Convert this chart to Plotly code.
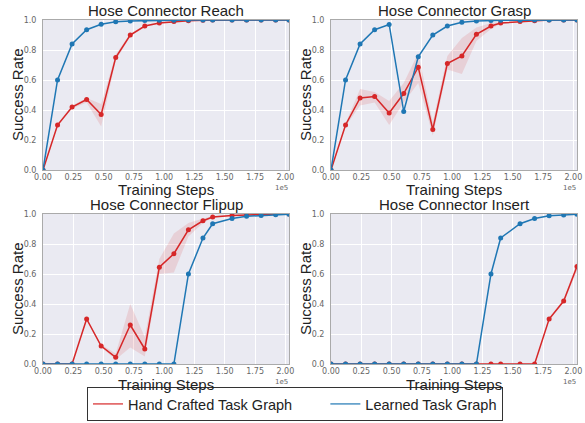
import plotly.graph_objects as go

# ---- data (x in units of 1e5 training steps) ----
steps = [0.0, 0.12, 0.24, 0.36, 0.48, 0.60, 0.72, 0.84, 0.96, 1.08, 1.20, 1.32, 1.40, 1.56, 1.68, 1.80, 1.92, 2.03]

titles = ["Hose Connector Reach", "Hose Connector Grasp", "Hose Connector Flipup", "Hose Connector Insert"]
series_names = ["Hand Crafted Task Graph", "Learned Task Graph"]

reach_learned = [0.0, 0.60, 0.84, 0.935, 0.972, 0.988, 0.994, 0.997, 0.998, 0.999, 1.0, 1.0, 1.0, 1.0, 1.0, 1.0, 1.0, 1.0]
reach_hand = [0.0, 0.30, 0.42, 0.47, 0.37, 0.75, 0.90, 0.96, 0.98, 0.99, 0.995, 0.998, 1.0, 1.0, 1.0, 1.0, 1.0, 1.0]
reach_hand_lo = [0.0, 0.29, 0.41, 0.45, 0.29, 0.73, 0.89, 0.955, 0.975, 0.988, 0.993, 0.997, 1.0, 1.0, 1.0, 1.0, 1.0, 1.0]
reach_hand_hi = [0.0, 0.31, 0.43, 0.48, 0.44, 0.77, 0.91, 0.965, 0.985, 0.992, 0.997, 0.999, 1.0, 1.0, 1.0, 1.0, 1.0, 1.0]

grasp_learned = [0.0, 0.60, 0.84, 0.935, 0.97, 0.39, 0.755, 0.90, 0.96, 0.985, 0.993, 0.997, 0.998, 0.999, 1.0, 1.0, 1.0, 1.0]
grasp_hand = [0.0, 0.30, 0.48, 0.49, 0.38, 0.51, 0.685, 0.27, 0.71, 0.76, 0.905, 0.96, 0.98, 0.99, 0.995, 1.0, 1.0, 1.0]
grasp_hand_lo = [0.0, 0.29, 0.43, 0.45, 0.30, 0.45, 0.58, 0.23, 0.67, 0.64, 0.86, 0.94, 0.975, 0.988, 0.994, 1.0, 1.0, 1.0]
grasp_hand_hi = [0.0, 0.31, 0.54, 0.52, 0.46, 0.58, 0.78, 0.32, 0.76, 0.88, 0.95, 0.98, 0.985, 0.993, 0.997, 1.0, 1.0, 1.0]

flip_learned = [0.0, 0.0, 0.0, 0.0, 0.0, 0.0, 0.0, 0.0, 0.0, 0.0, 0.60, 0.84, 0.935, 0.97, 0.985, 0.99, 0.995, 0.998]
flip_hand = [0.0, 0.0, 0.0, 0.30, 0.12, 0.045, 0.26, 0.10, 0.645, 0.735, 0.895, 0.955, 0.98, 0.99, 0.995, 1.0, 1.0, 1.0]
flip_hand_lo = [0.0, 0.0, 0.0, 0.29, 0.11, 0.03, 0.11, 0.05, 0.60, 0.61, 0.85, 0.94, 0.975, 0.988, 0.994, 1.0, 1.0, 1.0]
flip_hand_hi = [0.0, 0.0, 0.0, 0.31, 0.13, 0.07, 0.40, 0.18, 0.70, 0.87, 0.94, 0.97, 0.985, 0.993, 0.997, 1.0, 1.0, 1.0]

insert_learned = [0.0, 0.0, 0.0, 0.0, 0.0, 0.0, 0.0, 0.0, 0.0, 0.0, 0.0, 0.60, 0.84, 0.935, 0.97, 0.988, 0.993, 0.998]
insert_hand = [0.0, 0.0, 0.0, 0.0, 0.0, 0.0, 0.0, 0.0, 0.0, 0.0, 0.0, 0.0, 0.0, 0.0, 0.0, 0.30, 0.42, 0.65]
insert_hand_lo = [0.0, 0.0, 0.0, 0.0, 0.0, 0.0, 0.0, 0.0, 0.0, 0.0, 0.0, 0.0, 0.0, 0.0, 0.0, 0.29, 0.41, 0.62]
insert_hand_hi = [0.0, 0.0, 0.0, 0.0, 0.0, 0.0, 0.0, 0.0, 0.0, 0.0, 0.0, 0.0, 0.0, 0.0, 0.0, 0.31, 0.43, 0.68]

x_ticks = [0.0, 0.25, 0.5, 0.75, 1.0, 1.25, 1.5, 1.75, 2.0]
x_tick_labels = ["0.00", "0.25", "0.50", "0.75", "1.00", "1.25", "1.50", "1.75", "2.00"]
y_ticks = [0.0, 0.2, 0.4, 0.6, 0.8, 1.0]
y_tick_labels = ["0.0", "0.2", "0.4", "0.6", "0.8", "1.0"]

RED = "#d62728"
BLUE = "#1f77b4"
BAND = "rgba(214,39,40,0.13)"

panels = [
    (reach_hand, reach_hand_lo, reach_hand_hi, reach_learned),
    (grasp_hand, grasp_hand_lo, grasp_hand_hi, grasp_learned),
    (flip_hand, flip_hand_lo, flip_hand_hi, flip_learned),
    (insert_hand, insert_hand_lo, insert_hand_hi, insert_learned),
]

W, H = 585, 423
# plot-area pixel boxes (left, right, top, bottom)
boxes = [(43, 289, 20, 170), (331, 577, 20, 170), (43, 289, 214, 364), (331, 577, 214, 364)]
xtitle_offset = [19, 19, 20, 20]

fig = go.Figure()
layout = dict(
    width=W, height=H,
    margin=dict(l=0, r=0, t=0, b=0, autoexpand=False),
    paper_bgcolor="white",
    plot_bgcolor="#EAEAF2",
    showlegend=True,
    font=dict(family="Liberation Sans, Arial, sans-serif", color="#222"),
)
annotations = []

for i, (hand, lo, hi, learned) in enumerate(panels):
    n = i + 1
    xa = "x" if n == 1 else f"x{n}"
    ya = "y" if n == 1 else f"y{n}"
    l, r, t, b = boxes[i]
    dom_x = [l / W, r / W]
    dom_y = [1 - b / H, 1 - t / H]
    layout[f"xaxis{'' if n == 1 else n}"] = dict(
        domain=dom_x, anchor=ya, range=[0, 2.03], automargin=False,
        tickvals=x_ticks, ticktext=x_tick_labels,
        tickfont=dict(family="DejaVu Sans", size=8, color="#666"),
        showgrid=True, gridcolor="white", gridwidth=1, zeroline=False,
        showline=True, linecolor="#aaaaaa", linewidth=1, mirror=True,
        ticks="", ticklen=0, ticklabelstandoff=-1,
    )
    layout[f"yaxis{'' if n == 1 else n}"] = dict(
        domain=dom_y, anchor=xa, range=[0, 1.0], automargin=False,
        tickvals=y_ticks, ticktext=y_tick_labels,
        tickfont=dict(family="DejaVu Sans", size=8, color="#666"),
        showgrid=True, gridcolor="white", gridwidth=1, zeroline=False,
        showline=True, linecolor="#aaaaaa", linewidth=1, mirror=True,
        ticks="", ticklen=0, ticklabelstandoff=4,
    )
    # band
    fig.add_trace(go.Scatter(x=steps, y=lo, mode="lines", line=dict(width=0, color=BAND),
                             xaxis=xa, yaxis=ya, showlegend=False, hoverinfo="skip"))
    fig.add_trace(go.Scatter(x=steps, y=hi, mode="lines", line=dict(width=0, color=BAND),
                             fill="tonexty", fillcolor=BAND,
                             xaxis=xa, yaxis=ya, showlegend=False, hoverinfo="skip"))
    fig.add_trace(go.Scatter(x=steps, y=hand, mode="lines+markers",
                             line=dict(color=RED, width=1.5), marker=dict(color=RED, size=5),
                             name=series_names[0], showlegend=False, xaxis=xa, yaxis=ya))
    fig.add_trace(go.Scatter(x=steps, y=learned, mode="lines+markers",
                             line=dict(color=BLUE, width=1.5), marker=dict(color=BLUE, size=5),
                             name=series_names[1], showlegend=False, xaxis=xa, yaxis=ya))
    # subplot title
    annotations.append(dict(text=titles[i], x=(dom_x[0] + dom_x[1]) / 2, y=1 - (t + 1) / H,
                            xref="paper", yref="paper", xanchor="center", yanchor="bottom",
                            showarrow=False, font=dict(size=15, color="#222")))
    # axis titles
    annotations.append(dict(text="Training Steps", x=(dom_x[0] + dom_x[1]) / 2,
                            y=1 - (b + xtitle_offset[i]) / H,
                            xref="paper", yref="paper", xanchor="center", yanchor="middle",
                            showarrow=False, font=dict(size=15, color="#222")))
    annotations.append(dict(text="Success Rate", x=17 / W + (l - 43) / W, y=1 - ((t + b) / 2) / H,
                            xref="paper", yref="paper", xanchor="center", yanchor="middle",
                            textangle=-90, showarrow=False, font=dict(size=15, color="#222")))
    # offset text "1e5"
    annotations.append(dict(text="1e5", x=(r + 1) / W, y=1 - (b + 12) / H,
                            xref="paper", yref="paper", xanchor="right", yanchor="top",
                            showarrow=False, font=dict(family="DejaVu Sans", size=7, color="#666")))

# legend entries (line only, as in the reference)
fig.add_trace(go.Scatter(x=[None], y=[None], mode="lines", line=dict(color=RED, width=1.2),
                         name=series_names[0] + "\u00a0" * 7, showlegend=True, legendrank=1))
fig.add_trace(go.Scatter(x=[None], y=[None], mode="lines", line=dict(color=BLUE, width=1.2),
                         name=series_names[1], showlegend=True, legendrank=2))

layout["annotations"] = annotations
layout["legend"] = dict(
    orientation="h", x=295 / W, xanchor="center", y=2 / H, yanchor="bottom",
    bordercolor="#333", borderwidth=1, bgcolor="white",
    font=dict(size=14.5, color="#222"), traceorder="normal",
    itemwidth=30, tracegroupgap=0,
)
fig.update_layout(**layout)
fig.write_html("out.html", config={"displayModeBar": False},
               post_script="document.body.style.margin='0';document.body.style.overflow='hidden';")
